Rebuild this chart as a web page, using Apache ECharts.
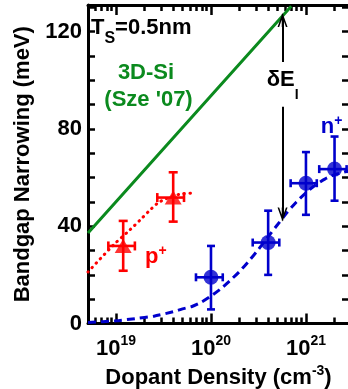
<!DOCTYPE html>
<html>
<head>
<meta charset="utf-8">
<script src="https://cdn.jsdelivr.net/npm/echarts@6/dist/echarts.min.js"></script>
<style>
html, body { margin: 0; padding: 0; background: #fff; }
#chart { width: 348px; height: 389px; }
</style>
</head>
<body>
<div id="chart"></div>
<script>
// dopant density in cm^-3, bandgap narrowing in meV
const pDensity = [1.19e19, 4.0e19];
const pNarrowing = [31.9, 51.8];
const pDensityLow = [8.3e18, 2.72e19];
const pDensityHigh = [1.58e19, 5.2e19];
const pNarrowingLow = [21.7, 41.9];
const pNarrowingHigh = [42.2, 62.2];

const nDensity = [1.0e20, 4.0e20, 1.0e21, 2.0e21];
const nNarrowing = [19.0, 33.3, 57.7, 63.5];
const nDensityLow = [6.95e19, 2.75e20, 6.9e20, 1.38e21];
const nDensityHigh = [1.33e20, 5.24e20, 1.3e21, 2.68e21];
const nNarrowingLow = [5.8, 20.0, 44.7, 50.5];
const nNarrowingHigh = [31.9, 46.4, 70.5, 76.9];

// 3D-Si (Sze '07)
const siDensity = [5.07e18, 1e19, 1e20, 7e20];
const siNarrowing = [37.2, 50.1, 93.7, 130.5];

// fits
const pFitDensity = [5.07e18, 9.4e18, 1.4e19, 1.83e19, 2.33e19, 2.9e19, 4.7e19, 6.8e19];
const pFit = [21.2, 32.3, 38.5, 42.9, 47.0, 50.1, 53.2, 53.6];
const nFitDensity = [5.07e18, 1e19, 1.58e19, 2.51e19, 3.98e19, 5.01e19, 6.31e19, 7.94e19,
  1e20, 1.26e20, 1.58e20, 2e20, 2.51e20, 3.16e20, 3.98e20, 5.01e20, 6.31e20, 7.94e20,
  1e21, 1.26e21, 1.58e21, 2e21, 2.82e21];
const nFit = [0.4, 1.1, 2.0, 3.0, 4.8, 6.0, 7.0, 8.8, 11.3, 14.2, 17.6, 21.4, 25.7, 30.5,
  35.6, 40.6, 45.6, 50.0, 53.8, 57.0, 59.4, 61.2, 62.8];

// delta E_I arrow
const arrowDensity = 5.67e20;
const arrowTop = 124.8, arrowBottom = 44.8;
const gapTop = 107.6, gapBottom = 89.2;

const xMin = 5.07e18, xMax = 2.84e21;
const yMin = 0, yMax = 131, yStep = 10;
const yLabels = [0, 40, 80, 120];
const minorTicks = [];
for (const dec of [1e18, 1e19, 1e20, 1e21]) {
  for (let m = 2; m <= 9; m++) {
    const v = m * dec;
    if (v > xMin && v < xMax) minorTicks.push(v);
  }
}

const FONT = 'Liberation Sans';
const RED = '#ff0000', BLUE = '#0000cc', GREEN = '#0b8a1e';

function errorBars(color, cap) {
  return function (params, api) {
    const x = api.value(0), y = api.value(1);
    const l = api.coord([api.value(2), y]);
    const r = api.coord([api.value(3), y]);
    const b = api.coord([x, api.value(4)]);
    const t = api.coord([x, api.value(5)]);
    const style = { stroke: color, lineWidth: 2.6 };
    const seg = (x1, y1, x2, y2) => ({ type: 'line', shape: { x1, y1, x2, y2 }, style });
    return {
      type: 'group',
      children: [
        seg(l[0], l[1], r[0], r[1]),
        seg(l[0], l[1] - cap, l[0], l[1] + cap),
        seg(r[0], r[1] - cap, r[0], r[1] + cap),
        seg(b[0], b[1], t[0], t[1]),
        seg(b[0] - cap, b[1], b[0] + cap, b[1]),
        seg(t[0] - cap, t[1], t[0] + cap, t[1])
      ]
    };
  };
}

const zip = (a, b) => a.map((v, i) => [v, b[i]]);
const pErr = pDensity.map((d, i) => [d, pNarrowing[i], pDensityLow[i], pDensityHigh[i], pNarrowingLow[i], pNarrowingHigh[i]]);
const nErr = nDensity.map((d, i) => [d, nNarrowing[i], nDensityLow[i], nDensityHigh[i], nNarrowingLow[i], nNarrowingHigh[i]]);

const isDecade = v => Math.abs(Math.log10(v) - Math.round(Math.log10(v))) < 1e-6;
const axisText = { color: '#000', fontFamily: FONT, fontWeight: 'bold', fontSize: 22 };
const arrowPath = 'path://M5,0 L10,14 L8.4,14 L5,4.5 L1.6,14 L0,14 Z M4.2,1 L5.8,1 L5.8,14 L4.2,14 Z';

const chart = echarts.init(document.getElementById('chart'));
chart.setOption({
  animation: false,
  grid: { left: 88, right: -1, top: 5, bottom: 65.5, outerBoundsMode: 'none', containLabel: false },
  xAxis: [
    {
      type: 'log', logBase: 10, min: xMin, max: xMax, position: 'bottom',
      axisLine: { lineStyle: { color: '#000', width: 3 } },
      axisTick: { inside: true, length: 10, lineStyle: { color: '#000', width: 2.5 } },
      axisLabel: Object.assign({}, axisText, {
        margin: 11,
        formatter: v => isDecade(v) ? '10{sup|' + Math.round(Math.log10(v)) + '}' : '',
        rich: { sup: { color: '#000', fontFamily: FONT, fontWeight: 'bold', fontSize: 14, padding: [0, 0, 14, 0] } }
      }),
      splitLine: { show: false },
      name: 'Dopant Density (cm{sup|-3})',
      nameLocation: 'middle', nameGap: 32,
      nameTextStyle: Object.assign({}, axisText, {
        rich: { sup: { color: '#000', fontFamily: FONT, fontWeight: 'bold', fontSize: 14, padding: [0, 0, 14, 0] } }
      })
    },
    {
      type: 'value', min: Math.log10(xMin), max: Math.log10(xMax), position: 'bottom',
      axisLine: { show: false }, axisLabel: { show: false }, splitLine: { show: false },
      axisTick: { inside: true, length: 6, customValues: minorTicks.map(Math.log10), lineStyle: { color: '#000', width: 2.5 } }
    },
    {
      type: 'log', logBase: 10, min: xMin, max: xMax, position: 'top',
      axisLine: { lineStyle: { color: '#000', width: 3 } },
      axisTick: { inside: true, length: 10, lineStyle: { color: '#000', width: 2.5 } },
      axisLabel: { show: false }, splitLine: { show: false }
    },
    {
      type: 'value', min: Math.log10(xMin), max: Math.log10(xMax), position: 'top',
      axisLine: { show: false }, axisLabel: { show: false }, splitLine: { show: false },
      axisTick: { inside: true, length: 6, customValues: minorTicks.map(Math.log10), lineStyle: { color: '#000', width: 2.5 } }
    }
  ],
  yAxis: [
    {
      type: 'value', min: yMin, max: yMax, interval: yStep, position: 'left',
      axisLine: { lineStyle: { color: '#000', width: 3 } },
      axisTick: { inside: true, length: 7, lineStyle: { color: '#000', width: 2.5 } },
      axisLabel: Object.assign({}, axisText, {
        margin: 6,
        formatter: v => yLabels.includes(v) ? String(v) : ''
      }),
      splitLine: { show: false },
      name: 'Bandgap Narrowing (meV)',
      nameLocation: 'middle', nameGap: 48,
      nameTextStyle: axisText
    },
    {
      type: 'value', min: yMin, max: yMax, interval: yStep, position: 'right',
      axisLine: { show: false },
      axisTick: { show: true, inside: true, length: 7, lineStyle: { color: '#000', width: 2.5 } },
      axisLabel: { show: false }, splitLine: { show: false }
    }
  ],
  series: [
    {
      name: '3D-Si', type: 'line', data: zip(siDensity, siNarrowing), showSymbol: false,
      lineStyle: { color: GREEN, width: 3 }, z: 2,
      markLine: {
        silent: true, symbol: ['none', arrowPath], symbolSize: [10, 14],
        lineStyle: { color: '#000', width: 2, type: 'solid' },
        label: { show: false },
        data: [
          [{ coord: [arrowDensity, gapTop] }, { coord: [arrowDensity, arrowTop] }],
          [{ coord: [arrowDensity, gapBottom] }, { coord: [arrowDensity, arrowBottom] }]
        ]
      }
    },
    {
      name: 'p fit', type: 'line', data: zip(pFitDensity, pFit), showSymbol: false, smooth: 0.3,
      lineStyle: { color: RED, width: 3, type: [0.5, 5.5], cap: 'round' }, z: 2
    },
    {
      name: 'n fit', type: 'line', data: zip(nFitDensity, nFit), showSymbol: false, smooth: 0.2,
      lineStyle: { color: BLUE, width: 3, type: [8, 5] }, z: 2
    },
    {
      name: 'p err', type: 'custom', data: pErr, renderItem: errorBars(RED, 4.5),
      encode: { x: 0, y: 1 }, z: 3
    },
    {
      name: 'n err', type: 'custom', data: nErr, renderItem: errorBars(BLUE, 4),
      encode: { x: 0, y: 1 }, z: 3
    },
    {
      name: 'p+', type: 'scatter', data: zip(pDensity, pNarrowing), symbol: 'triangle',
      symbolSize: [17, 14], itemStyle: { color: RED }, z: 4
    },
    {
      name: 'n+', type: 'scatter', data: zip(nDensity, nNarrowing), symbol: 'circle',
      symbolSize: 15, itemStyle: { color: BLUE }, z: 4
    }
  ],
  graphic: [
    {
      type: 'text', x: 91, y: 27.5, z: 10,
      style: {
        text: 'T{s|S}=0.5nm', fill: '#000', fontFamily: FONT, fontWeight: 'bold', fontSize: 22,
        align: 'left', verticalAlign: 'middle',
        rich: { s: { fill: '#000', fontFamily: FONT, fontWeight: 'bold', fontSize: 16, padding: [22, 0, 0, 0] } }
      }
    },
    {
      type: 'text', x: 146, y: 73, z: 10,
      style: { text: '3D-Si', fill: GREEN, fontFamily: FONT, fontWeight: 'bold', fontSize: 22, align: 'center', verticalAlign: 'middle' }
    },
    {
      type: 'text', x: 148.5, y: 99.5, z: 10,
      style: { text: "(Sze '07)", fill: GREEN, fontFamily: FONT, fontWeight: 'bold', fontSize: 22, align: 'center', verticalAlign: 'middle' }
    },
    {
      type: 'text', x: 266.7, y: 80, z: 10,
      style: {
        text: '\u03b4E{s|I}', fill: '#000', fontFamily: FONT, fontWeight: 'bold', fontSize: 22,
        align: 'left', verticalAlign: 'middle',
        rich: { s: { fill: '#000', fontFamily: FONT, fontWeight: 'bold', fontSize: 14, padding: [30, 0, 0, 0] } }
      }
    },
    {
      type: 'text', x: 145, y: 257.4, z: 10,
      style: {
        text: 'p{s|+}', fill: RED, fontFamily: FONT, fontWeight: 'bold', fontSize: 22,
        align: 'left', verticalAlign: 'middle',
        rich: { s: { fill: RED, fontFamily: FONT, fontWeight: 'bold', fontSize: 14, padding: [0, 0, 12, 0] } }
      }
    },
    {
      type: 'text', x: 320.7, y: 127.4, z: 10,
      style: {
        text: 'n{s|+}', fill: BLUE, fontFamily: FONT, fontWeight: 'bold', fontSize: 22,
        align: 'left', verticalAlign: 'middle',
        rich: { s: { fill: BLUE, fontFamily: FONT, fontWeight: 'bold', fontSize: 14, padding: [0, 0, 12, 0] } }
      }
    }
  ]
});
</script>
</body>
</html>
